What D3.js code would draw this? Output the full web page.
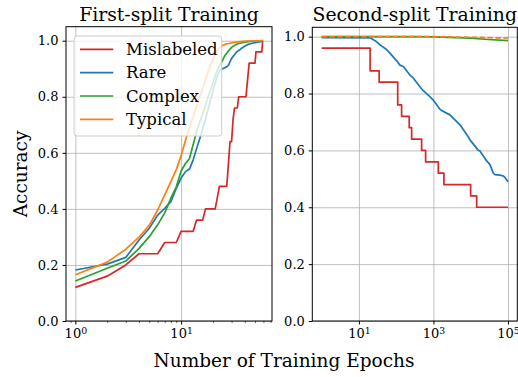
<!DOCTYPE html>
<html><head><meta charset="utf-8">
<script src="https://cdn.jsdelivr.net/npm/d3@7"></script>
<style>
body{margin:0;background:#fff}
text{font-family:"DejaVu Serif",serif;fill:#000}
</style>
</head><body>
<svg id="c" width="518" height="377"></svg>
<script>
// ---------- data ----------
const seriesNames = ["Mislabeled", "Rare", "Complex", "Typical"];
const seriesColors = ["#d62728", "#1f77b4", "#2ca02c", "#ff7f0e"];

// First-split training (epochs 1..59)
const epochs = [1,2,3,4,5,6,7,8,9,10,11,12,13,14,15,16,17,18,19,20,21,22,23,24,25,26,27,28,29,30,
  31,32,33,34,35,36,37,38,39,40,41,42,43,44,45,46,47,48,49,50,51,52,53,54,55,56,57,58,59];
const firstMislabeled = [0.12,0.16,0.20,0.24,0.24,0.24,0.28,0.28,0.28,0.32,0.32,0.32,0.32,0.36,0.36,0.36,0.40,0.40,0.40,0.40,
  0.40,0.44,0.48,0.48,0.48,0.48,0.48,0.56,0.64,0.64,0.72,0.76,0.76,0.76,0.80,0.80,0.80,0.80,0.80,0.80,
  0.80,0.84,0.88,0.92,0.92,0.92,0.92,0.92,0.92,0.92,0.96,0.96,0.96,0.96,0.96,0.96,0.96,0.96,1.00];
const firstRare = [0.182,0.203,0.227,0.289,0.331,0.378,0.402,0.426,0.473,0.510,0.533,0.542,0.575,0.615,0.650,0.685,0.720,0.755,0.790,0.820,
  0.850,0.875,0.893,0.898,0.901,0.904,0.907,0.912,0.925,0.937,0.944,0.950,0.957,0.962,0.965,0.968,0.972,0.975,0.978,0.980,
  0.983,0.985,0.987,0.988,0.989,0.990,0.991,0.992,0.993,0.993,0.994,0.995,0.995,0.996,0.996,0.997,0.997,0.998,0.998];
const firstComplex = [0.143,0.188,0.214,0.259,0.301,0.343,0.386,0.438,0.479,0.535,0.562,0.580,0.630,0.675,0.710,0.740,0.770,0.800,0.825,0.850,
  0.875,0.895,0.910,0.922,0.935,0.948,0.955,0.963,0.970,0.976,0.980,0.983,0.986,0.988,0.990,0.991,0.992,0.993,0.994,0.995,
  0.996,0.996,0.997,0.997,0.998,0.998,0.999,0.999,0.999,0.999,0.999,0.999,0.999,0.999,0.999,0.999,0.999,0.999,1.000];
const firstTypical = [0.165,0.210,0.256,0.299,0.342,0.396,0.450,0.497,0.540,0.590,0.645,0.690,0.730,0.765,0.800,0.830,0.860,0.890,0.915,0.935,
  0.950,0.965,0.975,0.980,0.984,0.987,0.989,0.990,0.991,0.992,0.993,0.994,0.995,0.996,0.996,0.997,0.997,0.998,0.998,0.998,
  0.999,0.999,0.999,0.999,0.999,0.999,0.999,0.999,0.999,0.999,0.999,0.999,0.999,0.999,1.000,1.000,1.000,1.000,1.000];

// Second-split training
const secondMislabeledEpochs = [1,20,35,110,140,224,260,482,617,1350,1910,9950,14450,100000];
const secondMislabeled = [0.96,0.88,0.84,0.76,0.72,0.68,0.64,0.60,0.56,0.52,0.48,0.44,0.40,0.40];
const secondRareEpochs = [1,20,30,37,55,68,103,126,155,234,287,435,532,805,989,1490,1660,2770,5140,8590,9550,15850,17700,26800,32900,40300,44800,61000,74800,83000,100000];
const secondRare = [0.997,0.996,0.982,0.971,0.955,0.942,0.915,0.900,0.895,0.865,0.855,0.824,0.810,0.789,0.777,0.745,0.740,0.725,0.690,0.648,0.637,0.601,0.598,0.563,0.550,0.520,0.515,0.513,0.510,0.505,0.490];
const secondComplexEpochs = [1,316,1000,10000,30000,100000];
const secondComplex = [1.000,1.000,0.999,0.995,0.990,0.986];
const secondTypicalEpochs = [1,1000,10000,100000];
const secondTypical = [1.000,1.000,0.998,0.995];

const yTicks = [0.0,0.2,0.4,0.6,0.8,1.0];
const leftXTicks = [1,10];
const leftXMinor = [0.9,2,3,4,5,6,7,8,9,20,30,40,50,60,70];
const rightXTicks = [10,1000,100000];
const titles = ["First-split Training", "Second-split Training"];
const xLabel = "Number of Training Epochs";
const yLabel = "Accuracy";

// ---------- layout ----------
const svg = d3.select("#c");
const P = [
  {x0:66, x1:272, y0:26.7, y1:321},
  {x0:312.3, x1:517.3, y0:27.3, y1:321}
];

function logMargins(lo, hi){ const a=Math.log10(lo), b=Math.log10(hi), m=(b-a)*0.05; return [10**(a-m), 10**(b+m)]; }
const xL = d3.scaleLog().domain(logMargins(1,59)).range([P[0].x0,P[0].x1]);
const xR = d3.scaleLog().domain(logMargins(1,100000)).range([P[1].x0,P[1].x1]);
const yL = d3.scaleLinear().domain([0,1.05]).range([P[0].y1,P[0].y0]);
const yR = d3.scaleLinear().domain([0,1.033]).range([P[1].y1,P[1].y0]);

function powFmt(sel){
  sel.each(function(d){
    const t=d3.select(this); t.text(null);
    t.append("tspan").text("10");
    t.append("tspan").attr("dy","-0.45em").attr("font-size","0.72em").text(Math.round(Math.log10(d)));
  });
}

function panel(i, x, y, xt, xminor, series){
  const p = P[i];
  const g = svg.append("g");
  const w = p.x1-p.x0, h = p.y1-p.y0;
  // grid
  g.append("g").attr("transform",`translate(0,${p.y1})`)
    .call(d3.axisBottom(x).tickValues(xt).tickSize(-h).tickFormat(""))
    .call(s=>{s.select(".domain").remove(); s.selectAll("line").attr("stroke","#b0b0b0").attr("stroke-width",0.8);});
  g.append("g").attr("transform",`translate(${p.x0},0)`)
    .call(d3.axisLeft(y).tickValues(yTicks).tickSize(-w).tickFormat(""))
    .call(s=>{s.select(".domain").remove(); s.selectAll("line").attr("stroke","#b0b0b0").attr("stroke-width",0.8);});
  // clip
  const cid = "clip"+i;
  svg.append("clipPath").attr("id",cid).append("rect").attr("x",p.x0).attr("y",p.y0).attr("width",w).attr("height",h);
  const lg = g.append("g").attr("clip-path",`url(#${cid})`);
  series.forEach(s=>{
    const line = d3.line().x(d=>x(d[0])).y(d=>y(d[1]));
    if (s.step) line.curve(d3.curveStepAfter);
    const pts = s.xs.map((e,k)=>[e,s.ys[k]]);
    lg.append("path").attr("d",line(pts)).attr("fill","none")
      .attr("stroke",s.color).attr("stroke-width",1.7)
      .attr("stroke-dasharray", s.dash ? "5.5,2.4" : null)
      .attr("stroke-linejoin","round");
  });
  // spines
  g.append("rect").attr("x",p.x0).attr("y",p.y0).attr("width",w).attr("height",h)
    .attr("fill","none").attr("stroke","#000").attr("stroke-width",1);
  // axes ticks
  const ax = g.append("g").attr("transform",`translate(0,${p.y1})`)
    .call(d3.axisBottom(x).tickValues(xt).tickSize(3.5).tickPadding(4));
  ax.select(".domain").remove();
  ax.selectAll("text").attr("font-size",13).attr("font-family","DejaVu Serif").call(powFmt);
  if (xminor){
    const mi = g.append("g").attr("transform",`translate(0,${p.y1})`)
      .call(d3.axisBottom(x).tickValues(xminor).tickSize(2).tickFormat(""));
    mi.select(".domain").remove();
    mi.selectAll("line").attr("stroke-width",0.6);
  }
  const ay = g.append("g").attr("transform",`translate(${p.x0},0)`)
    .call(d3.axisLeft(y).tickValues(yTicks).tickSize(3.5).tickPadding(4).tickFormat(d3.format(".1f")));
  ay.select(".domain").remove();
  ay.selectAll("text").attr("font-size",13).attr("font-family","DejaVu Serif");
  // title
  svg.append("text").attr("x",(p.x0+p.x1)/2).attr("y",21).attr("text-anchor","middle")
    .attr("font-size",18.8).text(titles[i]);
}

panel(0, xL, yL, leftXTicks, leftXMinor, [
  {xs:epochs, ys:firstMislabeled, color:seriesColors[0]},
  {xs:epochs, ys:firstRare, color:seriesColors[1]},
  {xs:epochs, ys:firstComplex, color:seriesColors[2]},
  {xs:epochs, ys:firstTypical, color:seriesColors[3]}
]);
panel(1, xR, yR, rightXTicks, null, [
  {xs:secondMislabeledEpochs, ys:secondMislabeled, color:seriesColors[0], step:true},
  {xs:secondRareEpochs, ys:secondRare, color:seriesColors[1]},
  {xs:secondComplexEpochs, ys:secondComplex, color:seriesColors[2]},
  {xs:secondTypicalEpochs, ys:secondTypical, color:seriesColors[3], dash:true}
]);

// legend
const leg = svg.append("g");
leg.append("rect").attr("x",74).attr("y",36).attr("width",147.7).attr("height",100).attr("rx",3)
  .attr("fill","#fff").attr("fill-opacity",0.8).attr("stroke","#cccccc").attr("stroke-width",1);
seriesNames.forEach((n,k)=>{
  const yy = 49.3 + k*23.35;
  leg.append("line").attr("x1",80).attr("x2",113.3).attr("y1",yy).attr("y2",yy)
    .attr("stroke",seriesColors[k]).attr("stroke-width",1.7);
  leg.append("text").attr("x",126).attr("y",yy).attr("dy","0.35em").attr("font-size",16.5).text(n);
});

// axis labels
svg.append("text").attr("x",284).attr("y",367).attr("text-anchor","middle").attr("font-size",18.5).text(xLabel);
svg.append("text").attr("transform","translate(27,174) rotate(-90)").attr("text-anchor","middle").attr("font-size",18.5).text(yLabel);
</script>
</body></html>
